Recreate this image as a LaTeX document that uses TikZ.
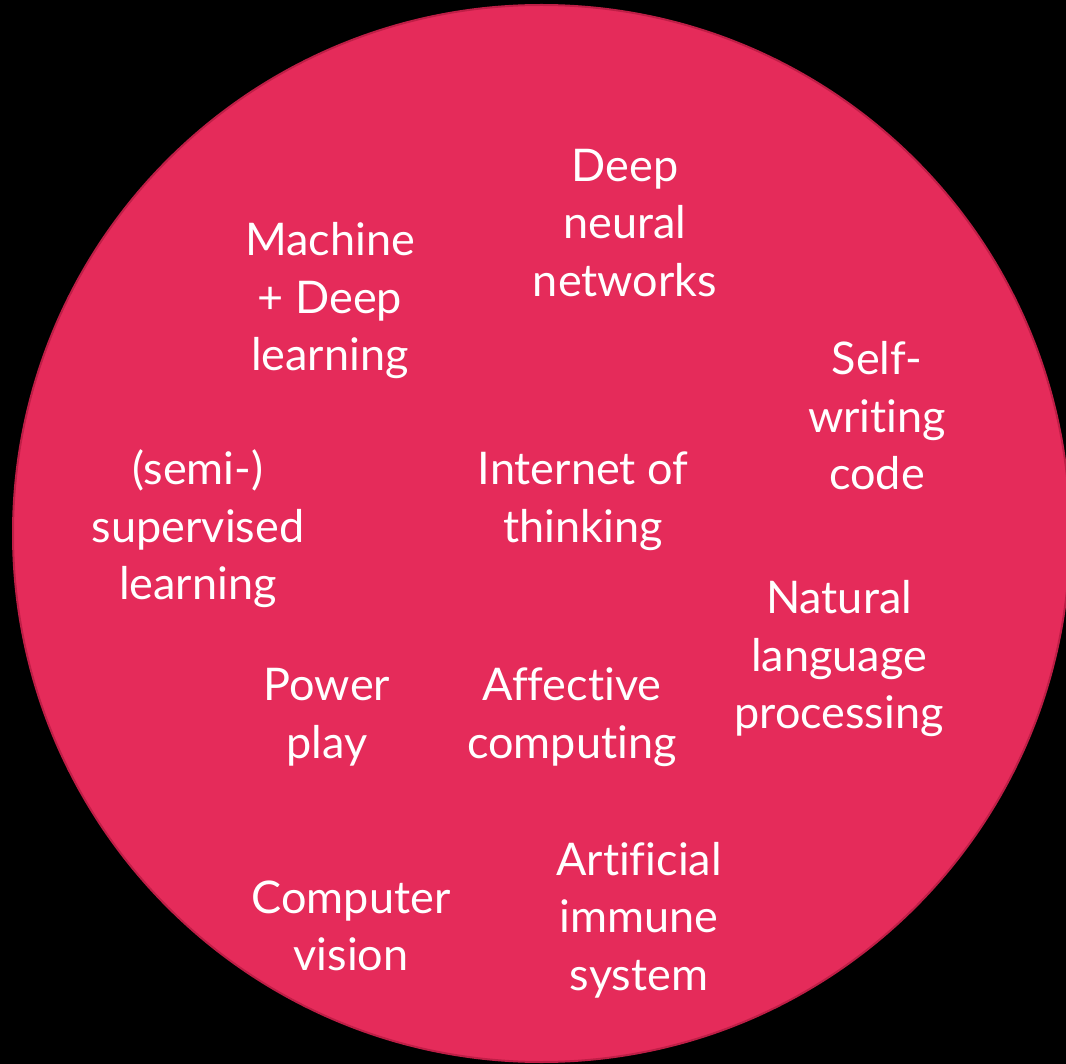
\documentclass[tikz,border=0pt]{standalone}
\usepackage{fontspec}
\setmainfont{Lato}[Ligatures={NoCommon,NoRequired,NoContextual}]
\definecolor{disc}{RGB}{229,43,90}
\definecolor{discedge}{RGB}{190,30,70}
\tikzset{lbl/.style={text=white, align=center, font=\fontsize{45}{57.5}\selectfont, inner sep=0pt}}
\begin{document}
\begin{tikzpicture}[x=1pt,y=-1pt]
\fill[black] (0,0) rectangle (1066,1064);
\useasboundingbox (0,0) rectangle (1066,1064);
\begin{scope}
\clip (0,0) rectangle (1066,1064);
\node[circle, fill=disc, draw=discedge, line width=2pt, minimum size=1057pt, inner sep=0pt] (disc) at (541.5,533.5) {};
\end{scope}
\node[lbl] (dnn) at (625,223) {Deep\\neural\\networks};
\node[lbl] (mdl) at (330,301) {Machine\\+ Deep\\learning};
\node[lbl] (swc) at (877,416) {Self-\\writing\\code};
\node[lbl] (ssl) at (198,529) {(semi-)\\supervised\\learning};
\node[lbl] (iot) at (583,501) {Internet of\\thinking};
\node[lbl] (nlp) at (839,659) {Natural\\language\\processing};
\node[lbl] (pp) at (327,717) {Power\\play};
\node[lbl] (ac) at (572,717) {Affective\\computing};
\node[lbl] (cv) at (351,926) {Computer\\vision};
\node[lbl] (ais) at (639,920) {Artificial\\immune\\system};
\end{tikzpicture}
\end{document}
